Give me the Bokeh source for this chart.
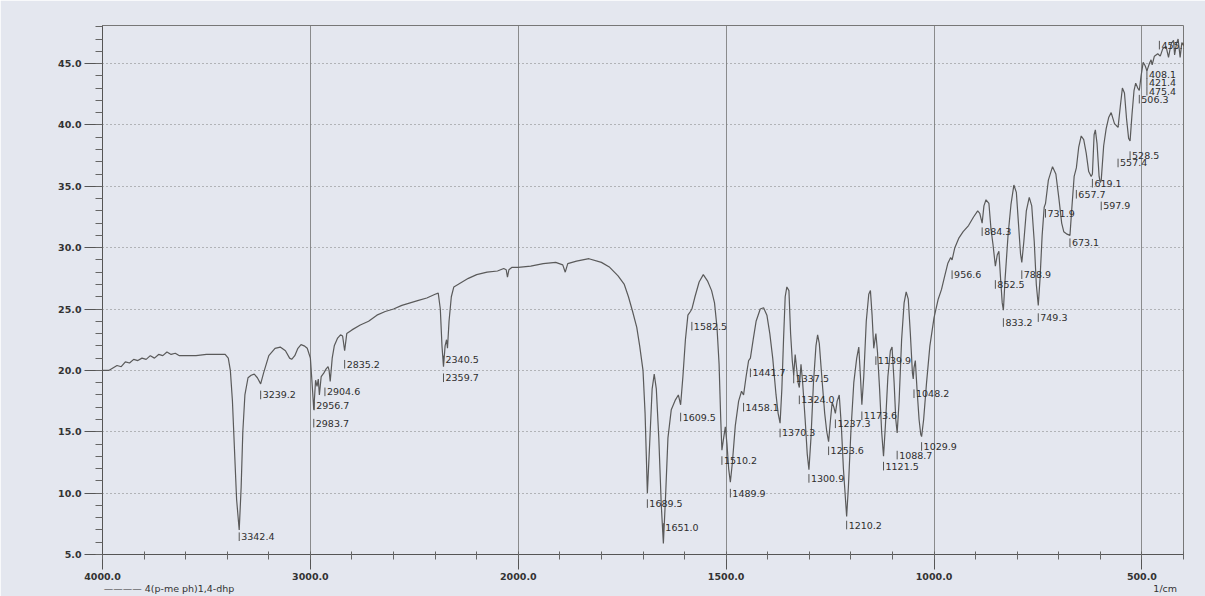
import numpy as np
from bokeh.plotting import figure
from bokeh.models import Range1d, FixedTicker, Label, LinearAxis
from bokeh.embed import file_html
from bokeh.resources import INLINE
from bokeh.core.properties import value

# ---------------- data ----------------
wavenumber = [
    4000, 3970, 3950, 3930, 3910, 3890, 3870, 3850, 3830, 3810, 3790, 3770, 3750, 3730, 3710,
    3690, 3670, 3650, 3630, 3600, 3550, 3500, 3450, 3410, 3395, 3385, 3375, 3365, 3355, 3342.4,
    3333, 3325, 3315, 3300, 3285, 3270, 3255, 3239.2, 3225, 3200, 3170, 3145, 3120, 3100, 3090,
    3075, 3060, 3045, 3030, 3015, 3000, 2992, 2983.7, 2975, 2968, 2962, 2956.7, 2948, 2935, 2925,
    2915, 2910, 2904.6, 2895, 2885, 2870, 2855, 2845, 2835.2, 2825, 2800, 2760, 2720, 2680, 2640,
    2600, 2560, 2520, 2480, 2440, 2400, 2385, 2375, 2367, 2359.7, 2352, 2345, 2340.5, 2333, 2322,
    2310, 2280, 2240, 2200, 2150, 2100, 2070, 2058, 2052, 2045, 2030, 2000, 1970, 1940, 1910,
    1893, 1887, 1881, 1860, 1830, 1800, 1780, 1760, 1745, 1735, 1725, 1715, 1708, 1700, 1695,
    1692, 1689.5, 1684, 1678, 1673, 1668, 1662, 1656, 1651.0, 1646, 1640, 1632, 1622, 1615, 1609.5,
    1604, 1598, 1592, 1586, 1582.5, 1575, 1565, 1555, 1545, 1535, 1528, 1522, 1517, 1513, 1510.2,
    1506, 1502, 1498, 1494, 1489.9, 1485, 1478, 1470, 1463, 1458.1, 1452, 1446, 1441.7, 1435, 1428,
    1418, 1410, 1402, 1395, 1388, 1380, 1375, 1370.3, 1366, 1362, 1358, 1354, 1349, 1345, 1341,
    1337.5, 1334, 1330, 1327, 1324.0, 1320, 1316, 1310, 1305, 1300.9, 1296, 1290, 1284, 1280, 1276,
    1270, 1263, 1258, 1253.6, 1249, 1245, 1241, 1237.3, 1233, 1228, 1223, 1218, 1213, 1210.2, 1206,
    1200, 1193, 1186, 1181, 1177, 1173.6, 1169, 1163, 1157, 1153, 1149, 1145, 1142, 1139.9, 1136,
    1131, 1126, 1121.5, 1117, 1111, 1105, 1101, 1096, 1092, 1088.7, 1084, 1078, 1072, 1067, 1062,
    1057, 1052, 1050, 1048.2, 1045, 1041, 1036, 1032, 1029.9, 1025, 1018, 1010, 1000, 990, 982,
    975, 967, 960, 956.6, 950, 940, 930, 917, 905, 895, 890, 884.3, 880, 875, 868,
    863, 858, 852.5, 848, 844, 840, 836, 833.2, 829, 822, 815, 808, 802, 797, 792,
    788.9, 784, 778, 771, 765, 759, 754, 749.3, 745, 740, 735, 731.9, 725, 715, 707,
    700, 693, 688, 680, 673.1, 668, 663, 657.7, 652, 646, 640, 634, 628, 622, 619.1,
    615, 612, 608, 603, 600, 597.9, 592, 586, 580, 574, 566, 557.4, 552, 547, 542,
    537, 532, 528.5, 524, 519, 515, 510, 506.3, 502, 497, 492, 488, 482, 478, 475.4,
    470, 462, 455.9, 450, 442, 436, 430, 424, 421.4, 417, 413, 408.1, 404, 400,
]
transmittance = [
    20.0, 20.0, 20.2, 20.4, 20.3, 20.7, 20.6, 20.9, 20.8, 21.0, 20.9, 21.2, 21.0, 21.3, 21.2,
    21.5, 21.3, 21.4, 21.2, 21.2, 21.2, 21.3, 21.3, 21.3, 21.0, 20.0, 17.5, 13.5, 9.5, 7.0,
    10.5, 15.0, 18.0, 19.4, 19.6, 19.7, 19.4, 18.9, 19.8, 21.2, 21.8, 21.9, 21.6, 21.0, 20.9,
    21.2, 21.8, 22.1, 22.0, 21.8, 21.0, 19.0, 16.8, 19.2, 18.7, 19.3, 18.0, 19.5, 19.8, 20.1,
    20.3, 20.0, 19.1, 21.0, 22.0, 22.6, 22.9, 22.8, 21.6, 23.0, 23.3, 23.7, 24.0, 24.5, 24.8,
    25.0, 25.3, 25.5, 25.7, 25.9, 26.2, 26.3, 25.0, 22.0, 20.3, 22.0, 22.5, 21.8, 24.0, 26.0,
    26.8, 27.1, 27.5, 27.8, 28.0, 28.1, 28.3, 28.2, 27.6, 28.2, 28.4, 28.4, 28.5, 28.7, 28.8,
    28.6, 28.0, 28.7, 28.9, 29.1, 28.8, 28.4, 27.7, 27.0, 26.0, 24.8, 23.5, 22.0, 20.0, 16.5,
    13.0, 10.0, 14.0, 18.5, 19.7, 18.5, 14.5, 9.0, 5.9, 9.5, 14.5, 16.8, 17.6, 18.0, 17.2,
    19.5, 22.5, 24.5, 24.8, 25.0, 26.0, 27.2, 27.8, 27.3, 26.5, 25.5, 23.5, 20.5, 16.0, 13.5,
    14.5, 15.4, 14.0, 12.0, 10.9, 12.5, 15.5, 17.5, 18.3, 18.0, 19.5, 20.8, 21.0, 22.5, 24.0,
    25.0, 25.1, 24.5, 23.0, 21.0, 18.0, 16.5, 15.7, 18.5, 22.5, 26.0, 26.8, 26.5, 23.0, 20.8,
    19.6, 21.3, 20.0, 19.0, 18.6, 20.5, 19.0, 16.0, 13.2, 11.9, 14.5, 19.0, 22.0, 22.9, 22.2,
    19.5, 16.5, 15.0, 14.2, 16.0, 17.4, 17.0, 16.5, 17.5, 18.0, 15.5, 12.0, 9.5, 8.1, 10.5,
    15.0, 19.0, 21.0, 21.9, 19.5, 17.2, 19.5, 24.0, 26.2, 26.5, 24.5, 21.8, 22.5, 23.0, 21.5,
    18.5, 15.0, 13.0, 15.5, 19.5, 21.6, 21.9, 19.0, 16.0, 14.9, 17.5, 22.5, 25.5, 26.4, 25.8,
    23.0, 19.8, 19.3, 20.2, 20.8, 18.5, 16.0, 14.8, 14.6, 16.0, 19.0, 22.0, 24.3, 25.8, 26.6,
    27.6, 28.7, 29.2, 29.0, 30.0, 30.8, 31.3, 31.8, 32.5, 33.0, 32.8, 32.0, 33.4, 33.9, 33.6,
    31.5, 30.2, 28.5, 29.4, 29.7, 27.5, 25.5, 24.9, 27.5, 31.0, 33.5, 35.1, 34.5, 32.0, 29.5,
    28.8, 30.5, 33.0, 34.1, 33.4, 30.5, 27.0, 25.3, 27.5, 31.0, 33.3, 33.6, 35.5, 36.6, 36.0,
    34.1, 32.0, 31.3, 31.1, 31.0, 33.5, 35.8, 36.5, 38.2, 39.1, 38.8, 37.7, 36.2, 35.8, 36.0,
    39.2, 39.6, 38.5, 35.8, 35.3, 35.5, 38.3, 39.7, 40.6, 41.0, 40.1, 39.8, 41.5, 43.0, 42.6,
    40.5, 38.9, 38.7, 40.8, 42.8, 43.4, 43.0, 42.8, 44.0, 45.1, 44.8, 44.4, 45.0, 45.3, 44.9,
    45.6, 45.8, 45.6, 46.2, 46.4, 45.5, 46.6, 46.9, 45.7, 46.6, 47.0, 45.5, 46.7, 46.5,
]

peak_wn = [
    3342.4, 3239.2, 2983.7, 2956.7, 2904.6, 2835.2, 2359.7, 2340.5, 1689.5, 1651.0, 1609.5,
    1582.5, 1510.2, 1489.9, 1458.1, 1441.7, 1370.3, 1337.5, 1324.0, 1300.9, 1253.6, 1237.3,
    1210.2, 1173.6, 1139.9, 1121.5, 1088.7, 1048.2, 1029.9, 956.6, 884.3, 852.5, 833.2, 788.9,
    749.3, 731.9, 673.1, 657.7, 619.1, 597.9, 557.4, 528.5, 506.3, 475.4, 421.4, 408.1, 455.9,
]
# where each peak label sits (wavenumber, %T)
label_x_wn = [
    3342.4, 3239.2, 2983.7, 2982.0, 2930.0, 2835.2, 2359.7, 2359.7, 1689.5, 1651.0, 1609.5,
    1582.5, 1510.2, 1489.9, 1458.1, 1441.7, 1370.3, 1337.5, 1324.0, 1300.9, 1253.6, 1237.3,
    1210.2, 1173.6, 1139.9, 1121.5, 1088.7, 1048.2, 1029.9, 956.6, 884.3, 852.5, 833.2, 788.9,
    749.3, 731.9, 673.1, 657.7, 619.1, 597.9, 557.4, 528.5, 506.3, 488.0, 488.0, 488.0, 458.0,
]
label_T = [
    6.45, 18.0, 15.7, 17.1, 18.25, 20.5, 19.4, 20.85, 9.15, 7.2, 16.2,
    23.6, 12.65, 10.0, 17.0, 19.8, 14.9, 19.3, 17.6, 11.2, 13.45, 15.65,
    7.4, 16.3, 20.8, 12.2, 13.1, 18.1, 13.8, 27.8, 31.3, 27.0, 23.9, 27.8,
    24.3, 32.8, 30.4, 34.35, 35.25, 33.4, 36.9, 37.5, 42.1, 42.75, 43.45, 44.1, 46.5,
]

x_tick_wn = [4000, 3000, 2000, 1500, 1000, 500]
x_tick_labels = ["4000.0", "3000.0", "2000.0", "1500.0", "1000.0", "500.0"]
x_minor_wn = [3800, 3600, 3400, 3200, 2800, 2600, 2400, 2200, 1900, 1800, 1700, 1600,
              1400, 1300, 1200, 1100, 900, 800, 700, 600, 400]
y_ticks = [5, 10, 15, 20, 25, 30, 35, 40, 45]
y_tick_labels = ["5.0", "10.0", "15.0", "20.0", "25.0", "30.0", "35.0", "40.0", "45.0"]
y_minor = list(range(5, 49))

series_name = "4(p-me ph)1,4-dhp"
x_unit = "1/cm"
y_unit = "%T"
# wavenumber positions under which the legend entry and the unit are printed
legend_at_wn = 3680
unit_at_wn = 444


# the instrument halves the scale above 2000 1/cm
def to_axis(w):
    w = np.asarray(w, dtype=float)
    return np.where(w > 2000, 2000 + (w - 2000) / 2.0, w)


BG = "#e4e7ef"
FONT = "DejaVu Sans"

p = figure(width=1205, height=596, output_backend="svg", toolbar_location=None,
           x_range=Range1d(float(to_axis(4000)), float(to_axis(400))),
           y_range=Range1d(5.0, 48.1),
           min_border_left=102, min_border_right=22, min_border_top=25, min_border_bottom=41,
           background_fill_color=BG, border_fill_color=BG)
p.outline_line_color = "#777777"
p.outline_line_width = 1

xt = [int(round(v)) for v in to_axis(x_tick_wn)]
xm = [int(round(v)) for v in to_axis(x_minor_wn)] + xt
p.xaxis.ticker = FixedTicker(ticks=xt, minor_ticks=sorted(xm))
p.xaxis.major_label_overrides = {t: lab for t, lab in zip(xt, x_tick_labels)}
p.yaxis.ticker = FixedTicker(ticks=y_ticks, minor_ticks=y_minor)
p.yaxis.major_label_overrides = {t: lab for t, lab in zip(y_ticks, y_tick_labels)}

for ax in (p.xaxis[0], p.yaxis[0]):
    ax.axis_line_color = "#555555"
    ax.major_tick_line_color = "#555555"
    ax.minor_tick_line_color = "#666666"
    ax.major_label_text_font = FONT
    ax.major_label_text_font_style = "bold"
    ax.major_label_text_font_size = "9.5px"
    ax.major_label_text_color = "#333333"

p.xaxis.major_tick_out = 15
p.xaxis.major_tick_in = 0
p.xaxis.minor_tick_out = 5
p.xaxis.minor_tick_in = 3
p.xaxis.major_label_standoff = 3
p.yaxis.major_tick_out = 18
p.yaxis.major_tick_in = 0
p.yaxis.minor_tick_out = 7
p.yaxis.minor_tick_in = 0
p.yaxis.major_label_standoff = 3

# second, bare axis row below: carries the legend entry and the unit
legend_u = int(round(float(to_axis(legend_at_wn))))
unit_u = int(round(float(to_axis(unit_at_wn))))
extra = LinearAxis(ticker=FixedTicker(ticks=[legend_u, unit_u], minor_ticks=[]),
                   major_label_overrides={legend_u: "———— " + series_name, unit_u: x_unit},
                   axis_line_color=None, major_tick_line_color=None,
                   minor_tick_line_color=None, major_tick_out=0, major_tick_in=0,
                   major_label_standoff=0, major_label_text_font=FONT,
                   major_label_text_font_size="9.5px", major_label_text_color="#333333")
p.add_layout(extra, "below")

p.ygrid.grid_line_color = "#7f7f7f"
p.ygrid.grid_line_dash = "1 3"
p.ygrid.grid_line_width = 1
p.xgrid.grid_line_color = "#7a7a7a"
p.xgrid.grid_line_width = 1
p.xgrid.grid_line_alpha = 0.85

# spectrum
p.line(x=to_axis(wavenumber), y=transmittance, line_color="#5a5a5a", line_width=1.2)

# peak labels with the small marker bar
lx = to_axis(label_x_wn)
ly = np.asarray(label_T)
p.segment(x0=lx, y0=ly - 0.35, x1=lx, y1=ly + 0.35, line_color="#555555", line_width=1)
p.text(x=lx, y=ly, text=[f"{w:.1f}" for w in peak_wn], x_offset=2,
       text_font=value(FONT), text_font_size=value("9.5px"), text_color="#2e2e2e",
       text_align="left", text_baseline="middle")

x_left = float(to_axis(4000))
p.add_layout(Label(x=x_left, y=42.5, x_offset=-25, text=y_unit, text_font=FONT,
                   text_font_size="9px", text_font_style="bold", text_color="#333333",
                   text_align="center", text_baseline="middle"))

open("out.html", "w").write(file_html(p, INLINE))
